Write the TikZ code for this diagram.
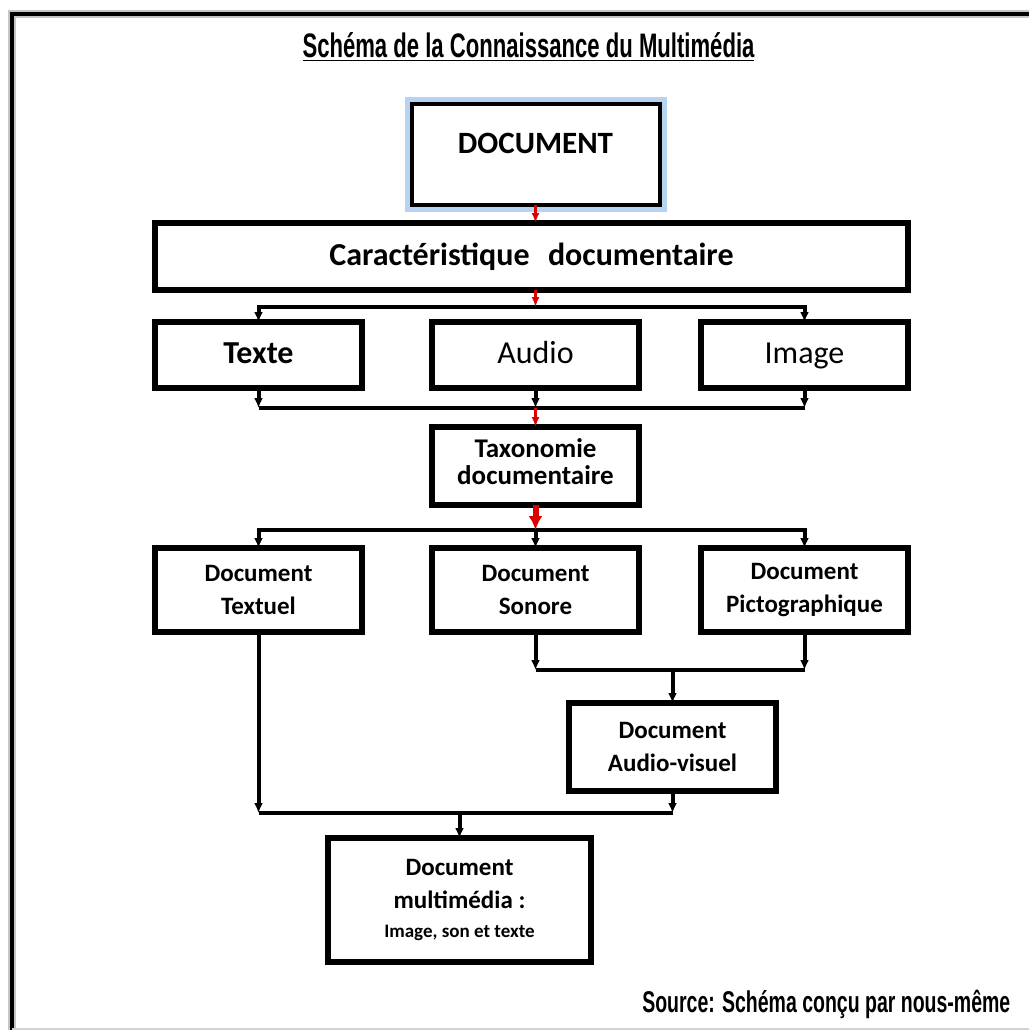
\documentclass[tikz,border=0pt]{standalone}
\usepackage{fontspec}
\setmainfont{Carlito}
\newfontfamily\narrowfont[FakeStretch=0.65]{Liberation Sans}
\usetikzlibrary{arrows.meta, positioning, calc}
\definecolor{glowblue}{RGB}{182,212,242}

\begin{document}
\begin{tikzpicture}[x=0.5pt,y=-0.5pt,every node/.style={outer sep=0pt}]
\tikzstyle{box}=[draw,line width=2.6pt,fill=white,inner sep=2pt,align=center,minimum width=103.5pt,font=\bfseries\fontsize{12.5}{16.5}\selectfont]
\tikzstyle{bigbox}=[box,minimum height=33pt,text height=11.5pt,text depth=3.5pt,font=\fontsize{16}{19}\selectfont]
\tikzstyle{link}=[line width=2pt]
\tikzstyle{arr}=[link,-{Latex[length=5pt,width=4.5pt]}]
\tikzstyle{redarr}=[line width=1.2pt,draw=red!85!black,-{Latex[length=5pt,width=4pt]}]
\tikzstyle{glow}=[preaction={draw=glowblue,line width=7pt}]

\useasboundingbox (0,0) rectangle (1029,1030);

% frame
\draw [gray!45,line width=4pt] (12,1030) -- (12,14) -- (1029,14);
\draw [line width=2.2pt] (12,1030) -- (12,14) -- (1029,14);
\draw [gray!35,line width=1pt] (12,1028.5) -- (1029,1028.5);

\node (title) at (528.5,47) {\narrowfont\bfseries\fontsize{17}{19}\selectfont\underline{Schéma de la Connaissance du Multimédia}};
\node (source) [anchor=east] at (1017,1004) {\narrowfont\bfseries\fontsize{15}{17}\selectfont Source: Schéma conçu par nous-même};

\node (doc) [box,glow,line width=2pt,minimum width=124pt,minimum height=50.5pt,font=\bfseries\fontsize{15.5}{18}\selectfont] at (535.5,154.5) {\raisebox{11.5pt}{DOCUMENT}};
\node (caract) [box,minimum width=376.5pt,minimum height=33.5pt,font=\bfseries\fontsize{16}{19}\selectfont] at (531.5,256.5) {Caractéristique\hspace{0.35em} documentaire};

\node (texte) [bigbox,font=\bfseries\fontsize{16}{19}\selectfont] at (258.5,355) {Texte};
\node (audio) [bigbox] at (535.5,355) {Audio};
\node (image) [bigbox] at (804.5,355) {Image};

\node (taxo) [box,minimum height=39pt,font=\bfseries\fontsize{13.5}{13.5}\selectfont] at (535.5,466) {\raisebox{4pt}{\begin{tabular}{@{}c@{}}Taxonomie\\documentaire\end{tabular}}};

\node (textuel) [box,minimum height=42pt] at (258.5,590) {Document\\Textuel};
\node (sonore) [box,minimum height=42pt] at (535.5,590) {Document\\Sonore};
\node (picto) [box,minimum height=42pt] at (804.5,590) {Document\\Pictographique};

\node (av) [box,minimum height=44pt] at (672.5,747) {Document\\Audio-visuel};

\node (multi) [box,minimum width=131.5pt,minimum height=62pt] at (459.5,900) {Document\\multimédia :\\[-2pt]{\fontsize{9.5}{12}\selectfont Image, son et texte}};

\coordinate (j1) at (535.5,307);
\coordinate (j2) at (535.5,408);
\coordinate (j3) at (535.5,530);
\coordinate (j4) at (670,670);
\coordinate (j5) at (459.5,813);

% first level
\draw [arr] (j1) -| (texte.north);
\draw [arr] (j1) -| (image.north);
\draw [redarr] (doc.south) -- (doc.south |- caract.north);
\draw [redarr] (j1 |- caract.south) -- (j1);

\draw [arr] (texte.south) -- (texte.south |- j2);
\draw [arr] (audio.south) -- (audio.south |- j2);
\draw [arr] (image.south) -- (image.south |- j2);
\draw [link] (texte.south |- j2) -- (image.south |- j2);
\draw [redarr,line width=1.8pt] (j2) -- (taxo.north);

% second level
\draw [arr] (j3) -| (textuel.north);
\draw [arr] (j3) -| (picto.north);
\draw [arr] (j3) -- (sonore.north);
\draw [redarr,line width=3pt,-{Latex[length=7pt,width=7pt]}] (taxo.south) -- (j3);

\draw [arr] (sonore.south) -- (sonore.south |- j4);
\draw [arr] (picto.south) -- (picto.south |- j4);
\draw [link] (sonore.south |- j4) -- (picto.south |- j4);
\draw [arr] (av.north |- j4) -- (av.north);

\draw [arr] (textuel.south) -- (textuel.south |- j5);
\draw [arr] (av.south) -- (av.south |- j5);
\draw [link] (textuel.south |- j5) -- (av.south |- j5);
\draw [arr] (multi.north |- j5) -- (multi.north);
\end{tikzpicture}
\end{document}
